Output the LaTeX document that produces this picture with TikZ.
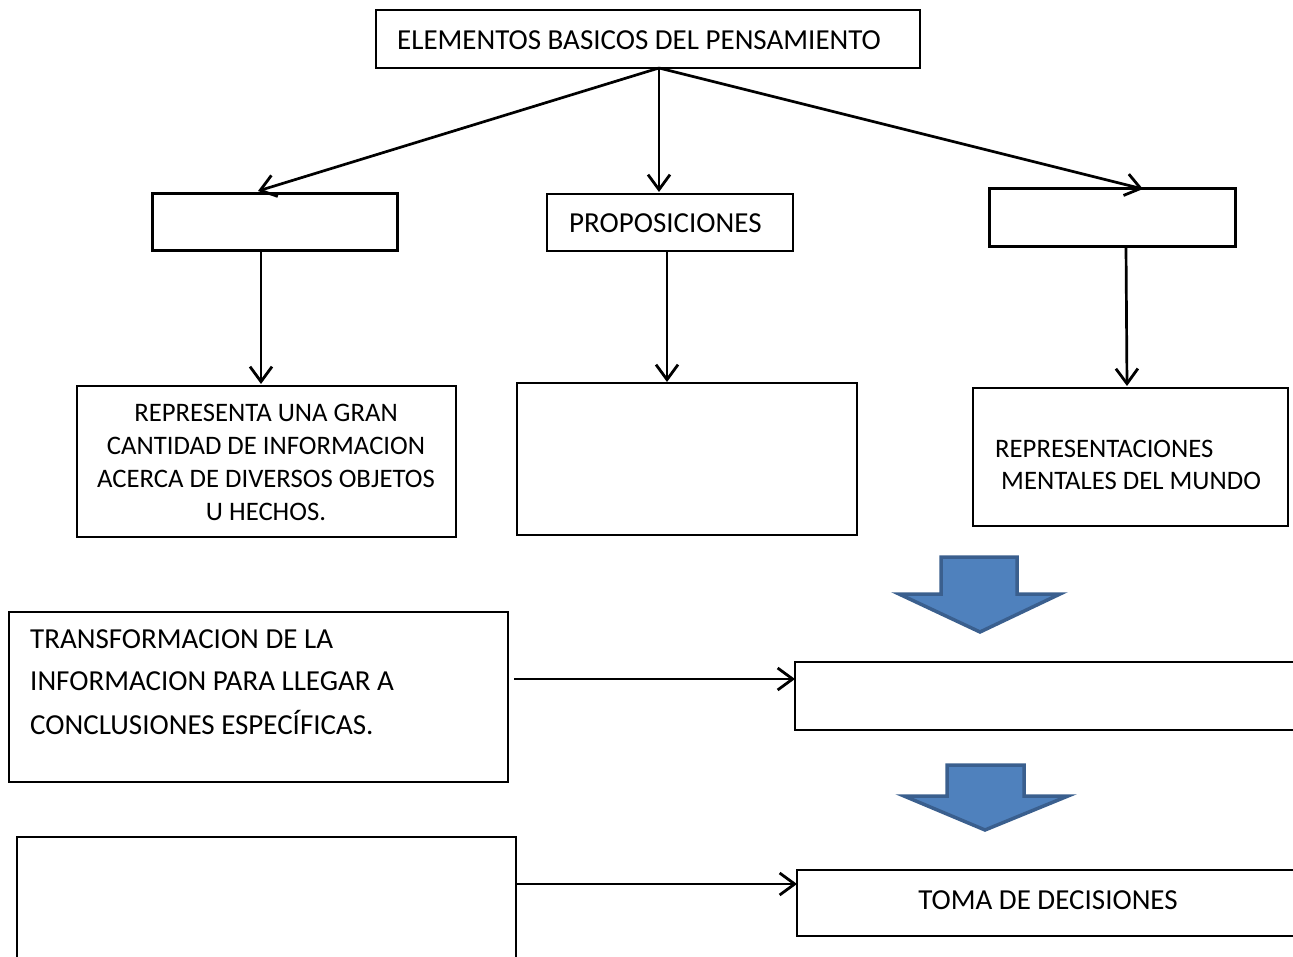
\documentclass[tikz,border=0pt]{standalone}
\usepackage{fontspec}
\setmainfont{Carlito}
\usetikzlibrary{arrows.meta}
\definecolor{blkfill}{HTML}{4F81BD}
\definecolor{blkdraw}{HTML}{3A5F8E}
\begin{document}
\begin{tikzpicture}[x=1pt,y=-1pt,
  thinbox/.style={draw,line width=1.4pt},
  thickbox/.style={draw,line width=3pt},
  conn/.style={line width=2.7pt,-{Straight Barb[length=15pt,width=22pt,line width=2.8pt]}},
  txt/.style={font=\fontsize{29}{33}\selectfont,inner sep=0pt},
  stxt/.style={font=\fontsize{26.7}{33}\selectfont,inner sep=0pt},
  blockarrow/.style={fill=blkfill,draw=blkdraw,line width=3.5pt,line join=miter}]
\useasboundingbox (0,0) rectangle (1293,957);
% boxes
\draw[thinbox] (376,10) rectangle (920,68);
\node[txt,anchor=west] (t0) at (397,40) {ELEMENTOS BASICOS DEL PENSAMIENTO};
\coordinate (top) at (659,68);
\draw[thickbox] (152,194) rectangle (397,251);
\coordinate (lm) at (258,191);
\coordinate (lmb) at (261,251);
\draw[thinbox] (547,194) rectangle (793,251);
\node[txt,anchor=west] (t1) at (569,223) {PROPOSICIONES};
\coordinate (mm) at (659,192);
\coordinate (mmb) at (667,251);
\draw[thickbox] (989,189) rectangle (1235,247);
\coordinate (rm) at (1143,189);
\coordinate (rmb) at (1126,247);
\draw[thinbox] (77,386) rectangle (456,537);
\node[stxt,align=center] (t2) at (266,462) {REPRESENTA UNA GRAN\\CANTIDAD DE INFORMACION\\ACERCA DE DIVERSOS OBJETOS\\U HECHOS.};
\coordinate (ll) at (261,384);
\draw[thinbox] (517,383) rectangle (857,535);
\coordinate (ml) at (667,382);
\draw[thinbox] (973,388) rectangle (1288,526);
\node[stxt,anchor=west] (t3) at (995,449) {REPRESENTACIONES};
\node[stxt,anchor=west] (t4) at (1001,481) {MENTALES DEL MUNDO};
\coordinate (rl) at (1127,386);
% block arrows
\draw[blockarrow] (941,557) -- (1017,557) -- (1017,594) -- (1060,594) -- (980,632) -- (899,594) -- (941,594) -- cycle;
\draw[blockarrow] (947,765) -- (1024,765) -- (1024,796) -- (1068,796) -- (985,830) -- (904,796) -- (947,796) -- cycle;
% lower rows
\draw[thinbox] (9,612) rectangle (508,782);
\node[txt,anchor=west] (t5) at (30,639) {TRANSFORMACION DE LA};
\node[txt,anchor=west] (t6) at (30,681) {INFORMACION PARA LLEGAR A};
\node[txt,anchor=west] (t7) at (30,723) {CONCLUSIONES ESPECÍFICAS.};
\coordinate (a1s) at (514,679);
\draw[thinbox] (795,662) rectangle (1300,730);
\coordinate (a1e) at (795,679);
\draw[thinbox] (17,837) rectangle (516,970);
\coordinate (a2s) at (517,884);
\draw[thinbox] (797,870) rectangle (1300,936);
\coordinate (a2e) at (797,884);
\node[txt] (t8) at (1048,900) {TOMA DE DECISIONES};
% connectors
\draw[conn] (top) -- (lm);
\draw[conn] (top) -- (mm);
\draw[conn] (top) -- (rm);
\draw[conn] (lmb) -- (ll);
\draw[conn] (mmb) -- (ml);
\draw[conn] (rmb) -- (rl);
\draw[conn] (a1s) -- (a1e);
\draw[conn] (a2s) -- (a2e);
\end{tikzpicture}
\end{document}
